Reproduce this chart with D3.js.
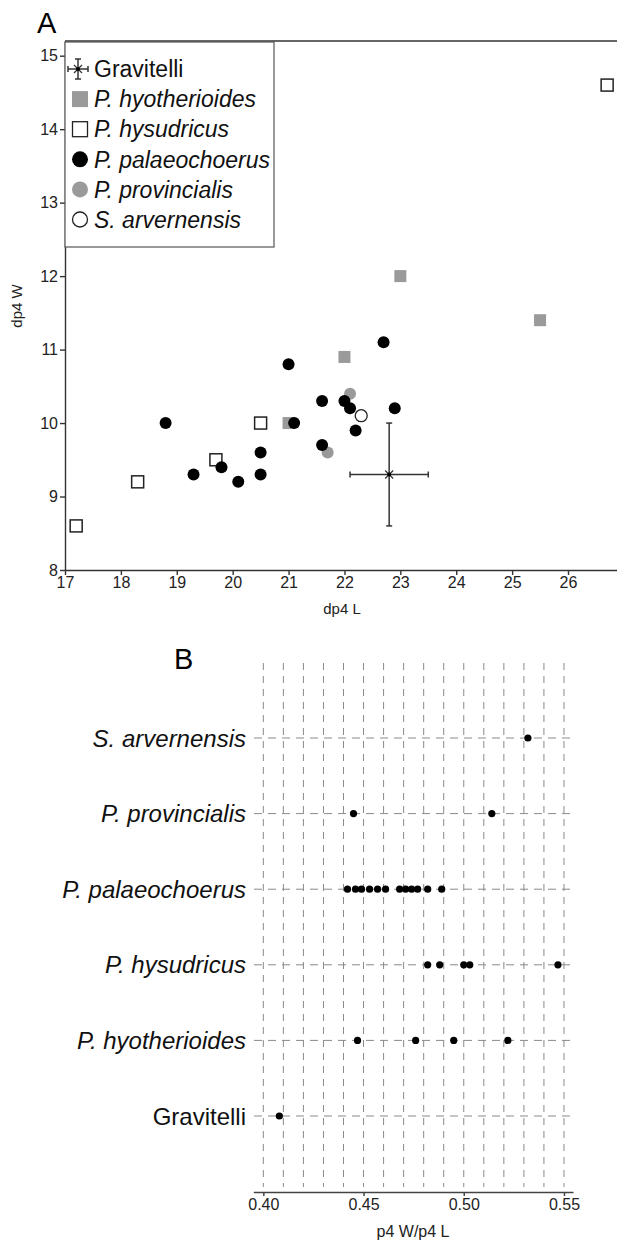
<!DOCTYPE html>
<meta charset="utf-8">
<script src="https://d3js.org/d3.v7.min.js"></script>
<style>
body { margin: 0; background: #fff; }
svg { display: block; }
.tickA text { font-family: "Liberation Sans Narrow", "Arial Narrow", "Liberation Sans", sans-serif; font-size: 16px; fill: #222; }
.tickB text { font-family: "Liberation Sans", Arial, sans-serif; font-size: 16px; fill: #222; }
</style>
<div id="chart"></div>
<script>
// ---- panel A data (dp4 L, dp4 W) ----
var legendNames = ["Gravitelli", "P. hyotherioides", "P. hysudricus", "P. palaeochoerus", "P. provincialis", "S. arvernensis"];

var hyotherioidesL = [21.0, 22.0, 23.0, 25.5];
var hyotherioidesW = [10.0, 10.9, 12.0, 11.4];

var hysudricusL = [17.2, 18.3, 19.7, 20.5, 26.7];
var hysudricusW = [8.6, 9.2, 9.5, 10.0, 14.6];

var provincialisL = [22.1, 21.7];
var provincialisW = [10.4, 9.6];

var palaeochoerusL = [18.8, 19.3, 19.8, 20.1, 20.5, 20.5, 21.0, 21.1, 21.6, 21.6, 22.0, 22.1, 22.2, 22.7, 22.9];
var palaeochoerusW = [10.0, 9.3, 9.4, 9.2, 9.6, 9.3, 10.8, 10.0, 10.3, 9.7, 10.3, 10.2, 9.9, 11.1, 10.2];

var arvernensisL = [22.3];
var arvernensisW = [10.1];

var gravitelliMean = [22.8, 9.3];
var gravitelliLRange = [22.1, 23.5];
var gravitelliWRange = [8.6, 10.0];

var xTicksA = [17, 18, 19, 20, 21, 22, 23, 24, 25, 26];
var yTicksA = [8, 9, 10, 11, 12, 13, 14, 15];

// ---- panel B data (p4 W / p4 L) ----
var categoriesB = ["S. arvernensis", "P. provincialis", "P. palaeochoerus", "P. hysudricus", "P. hyotherioides", "Gravitelli"];
var ratioArvernensis = [0.532];
var ratioProvincialis = [0.445, 0.514];
var ratioPalaeochoerus = [0.442, 0.446, 0.449, 0.453, 0.457, 0.461, 0.468, 0.471, 0.474, 0.477, 0.482, 0.489];
var ratioHysudricus = [0.482, 0.488, 0.500, 0.503, 0.547];
var ratioHyotherioides = [0.447, 0.476, 0.495, 0.522];
var ratioGravitelli = [0.408];
var gridTicksB = [0.40, 0.41, 0.42, 0.43, 0.44, 0.45, 0.46, 0.47, 0.48, 0.49, 0.50, 0.51, 0.52, 0.53, 0.54, 0.55];
var xTicksB = [0.40, 0.45, 0.50, 0.55];

var W = 617, H = 1241;
var sans = "'Liberation Sans', Arial, sans-serif";
var grey = "#9a9a9a";
var ink = "#222";

var svg = d3.select("#chart").append("svg")
    .attr("width", W)
    .attr("height", H);

function zip(a, b) { return a.map(function(v, i) { return [v, b[i]]; }); }

// ================= PANEL A =================
var xA = d3.scaleLinear().domain([17, 27]).range([65, 623.9]);
var yA = d3.scaleLinear().domain([8, 15.2]).range([570, 41]);

var gA = svg.append("g");

gA.append("text")
    .attr("x", 37).attr("y", 33)
    .attr("font-family", sans).attr("font-size", 29)
    .text("A");

// top frame line
gA.append("line")
    .attr("x1", 65).attr("x2", W)
    .attr("y1", yA(15.2)).attr("y2", yA(15.2))
    .attr("stroke", "#333").attr("stroke-width", 1.6);

var xAxisA = gA.append("g")
    .attr("class", "tickA")
    .attr("transform", "translate(0," + yA(8) + ")")
    .call(d3.axisBottom(xA).tickValues(xTicksA).tickSize(5).tickSizeOuter(0).tickPadding(2).tickFormat(d3.format("d")));
var yAxisA = gA.append("g")
    .attr("class", "tickA")
    .attr("transform", "translate(" + xA(17) + ",0)")
    .call(d3.axisLeft(yA).tickValues(yTicksA).tickSize(5).tickSizeOuter(0).tickPadding(2).tickFormat(d3.format("d")));
gA.selectAll(".domain, .tick line").attr("stroke", "#333").attr("stroke-width", 1.4);

gA.append("text")
    .attr("x", 342).attr("y", 614)
    .attr("text-anchor", "middle")
    .attr("font-family", sans).attr("font-size", 15).attr("fill", ink)
    .text("dp4 L");
gA.append("text")
    .attr("transform", "translate(22,306) rotate(-90)")
    .attr("text-anchor", "middle")
    .attr("font-family", sans).attr("font-size", 15).attr("fill", ink)
    .text("dp4 W");

var sq = 12;
// grey squares
gA.selectAll(".hyo").data(zip(hyotherioidesL, hyotherioidesW)).enter().append("rect")
    .attr("x", function(d) { return xA(d[0]) - sq / 2; })
    .attr("y", function(d) { return yA(d[1]) - sq / 2; })
    .attr("width", sq).attr("height", sq)
    .attr("fill", grey);
// open squares
gA.selectAll(".hys").data(zip(hysudricusL, hysudricusW)).enter().append("rect")
    .attr("x", function(d) { return xA(d[0]) - sq / 2; })
    .attr("y", function(d) { return yA(d[1]) - sq / 2; })
    .attr("width", sq).attr("height", sq)
    .attr("fill", "#fff").attr("stroke", "#222").attr("stroke-width", 1.5);
// grey circles
gA.selectAll(".pro").data(zip(provincialisL, provincialisW)).enter().append("circle")
    .attr("cx", function(d) { return xA(d[0]); })
    .attr("cy", function(d) { return yA(d[1]); })
    .attr("r", 6).attr("fill", grey);
// black circles
gA.selectAll(".pal").data(zip(palaeochoerusL, palaeochoerusW)).enter().append("circle")
    .attr("cx", function(d) { return xA(d[0]); })
    .attr("cy", function(d) { return yA(d[1]); })
    .attr("r", 6).attr("fill", "#000");
// open circle
gA.selectAll(".arv").data(zip(arvernensisL, arvernensisW)).enter().append("circle")
    .attr("cx", function(d) { return xA(d[0]); })
    .attr("cy", function(d) { return yA(d[1]); })
    .attr("r", 6).attr("fill", "#fff").attr("stroke", "#222").attr("stroke-width", 1.3);

// Gravitelli mean with ranges
function errCross(g, cx, cy, x0, x1, y0, y1, cap) {
    var s = g.append("g").attr("stroke", "#333").attr("stroke-width", 1.5).attr("fill", "none");
    s.append("line").attr("x1", x0).attr("x2", x1).attr("y1", cy).attr("y2", cy);
    s.append("line").attr("x1", x0).attr("x2", x0).attr("y1", cy - cap).attr("y2", cy + cap);
    s.append("line").attr("x1", x1).attr("x2", x1).attr("y1", cy - cap).attr("y2", cy + cap);
    s.append("line").attr("x1", cx).attr("x2", cx).attr("y1", y0).attr("y2", y1);
    s.append("line").attr("x1", cx - cap).attr("x2", cx + cap).attr("y1", y0).attr("y2", y0);
    s.append("line").attr("x1", cx - cap).attr("x2", cx + cap).attr("y1", y1).attr("y2", y1);
    s.append("path").attr("d", "M" + (cx - 4) + "," + (cy - 4) + "L" + (cx + 4) + "," + (cy + 4) +
        "M" + (cx - 4) + "," + (cy + 4) + "L" + (cx + 4) + "," + (cy - 4)).attr("stroke-width", 1.2);
    g.append("circle").attr("cx", cx).attr("cy", cy).attr("r", 2).attr("fill", "#000");
}
errCross(gA, xA(gravitelliMean[0]), yA(gravitelliMean[1]),
    xA(gravitelliLRange[0]), xA(gravitelliLRange[1]),
    yA(gravitelliWRange[0]), yA(gravitelliWRange[1]), 3);

// legend
var leg = gA.append("g");
leg.append("rect")
    .attr("x", 65).attr("y", 42).attr("width", 209).attr("height", 205)
    .attr("fill", "#fff").attr("stroke", "#555").attr("stroke-width", 1.2);
var legY = d3.scalePoint().domain(legendNames).range([69, 219.5]);
var lx = 80;
legendNames.forEach(function(name, i) {
    var cy = legY(name);
    if (i === 0) {
        errCross(leg, lx - 2, cy, lx - 12, lx + 8, cy - 10, cy + 10, 3);
    } else if (i === 1) {
        leg.append("rect").attr("x", lx - 8).attr("y", cy - 8).attr("width", 16).attr("height", 16).attr("fill", grey);
    } else if (i === 2) {
        leg.append("rect").attr("x", lx - 7.5).attr("y", cy - 7.5).attr("width", 15).attr("height", 15)
            .attr("fill", "#fff").attr("stroke", "#222").attr("stroke-width", 1.3);
    } else if (i === 3) {
        leg.append("circle").attr("cx", lx).attr("cy", cy).attr("r", 8).attr("fill", "#000");
    } else if (i === 4) {
        leg.append("circle").attr("cx", lx).attr("cy", cy).attr("r", 8).attr("fill", grey);
    } else {
        leg.append("circle").attr("cx", lx).attr("cy", cy).attr("r", 7.5)
            .attr("fill", "#fff").attr("stroke", "#222").attr("stroke-width", 1.3);
    }
    leg.append("text")
        .attr("x", 94).attr("y", cy).attr("dy", "0.36em")
        .attr("font-family", sans).attr("font-size", 23).attr("fill", "#111")
        .attr("font-style", i === 0 ? "normal" : "italic")
        .text(name);
});

// ================= PANEL B =================
var xB = d3.scaleLinear().domain([0.395, 0.5545]).range([253.3, 573]);
var yB = d3.scalePoint().domain(categoriesB).range([738, 1116]);
var seriesB = [ratioArvernensis, ratioProvincialis, ratioPalaeochoerus, ratioHysudricus, ratioHyotherioides, ratioGravitelli];

var gB = svg.append("g");

gB.append("text")
    .attr("x", 174).attr("y", 669)
    .attr("font-family", sans).attr("font-size", 29)
    .text("B");

gB.selectAll(".vgrid").data(gridTicksB).enter().append("line")
    .attr("x1", function(d) { return xB(d); }).attr("x2", function(d) { return xB(d); })
    .attr("y1", 663).attr("y2", 1187)
    .attr("stroke", "#8a8a8a").attr("stroke-width", 1).attr("stroke-dasharray", "7,6");

gB.selectAll(".hgrid").data(categoriesB).enter().append("line")
    .attr("x1", 254).attr("x2", 571)
    .attr("y1", function(d) { return yB(d); }).attr("y2", function(d) { return yB(d); })
    .attr("stroke", "#8a8a8a").attr("stroke-width", 1).attr("stroke-dasharray", "8,6");

gB.selectAll(".cat").data(categoriesB).enter().append("text")
    .attr("x", 246).attr("y", function(d) { return yB(d); }).attr("dy", "0.36em")
    .attr("text-anchor", "end")
    .attr("font-family", sans).attr("font-size", 24).attr("fill", "#111")
    .attr("font-style", function(d) { return d === "Gravitelli" ? "normal" : "italic"; })
    .text(function(d) { return d; });

categoriesB.forEach(function(cat, i) {
    gB.selectAll(".dot" + i).data(seriesB[i]).enter().append("circle")
        .attr("cx", function(d) { return xB(d); })
        .attr("cy", yB(cat))
        .attr("r", 3.6)
        .attr("fill", "#000");
});

var xAxisB = gB.append("g")
    .attr("class", "tickB")
    .attr("transform", "translate(0,1192)")
    .call(d3.axisBottom(xB).tickValues(xTicksB).tickSize(4).tickSizeOuter(0).tickPadding(3).tickFormat(d3.format(".2f")));
xAxisB.selectAll(".domain, .tick line").attr("stroke", "#444").attr("stroke-width", 1.5);

gB.append("text")
    .attr("x", 413).attr("y", 1237)
    .attr("text-anchor", "middle")
    .attr("font-family", sans).attr("font-size", 16).attr("fill", ink)
    .text("p4 W/p4 L");
</script>
